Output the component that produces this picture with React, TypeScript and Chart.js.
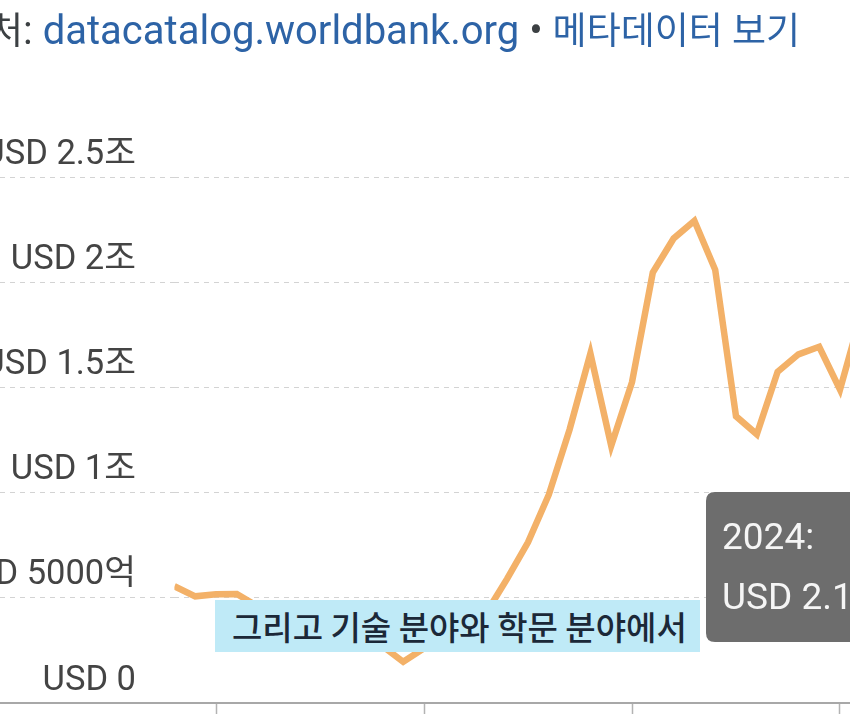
import React, { useEffect, useRef } from "react";
import { Chart, registerables } from "chart.js";

Chart.register(...registerables);

const years = [
  1988, 1989, 1990, 1991, 1992, 1993, 1994, 1995, 1996, 1997, 1998, 1999,
  2000, 2001, 2002, 2003, 2004, 2005, 2006, 2007, 2008, 2009, 2010, 2011,
  2012, 2013, 2014, 2015, 2016, 2017, 2018, 2019, 2020, 2021, 2022, 2023, 2024,
];

// GDP in USD trillions (조)
const gdpTrillions = [
  0.555, 0.507, 0.517, 0.518, 0.46, 0.435, 0.395, 0.396, 0.392, 0.405, 0.271, 0.196,
  0.26, 0.307, 0.345, 0.43, 0.591, 0.764, 0.99, 1.3, 1.661, 1.223, 1.525, 2.046,
  2.208, 2.292, 2.059, 1.363, 1.277, 1.574, 1.657, 1.693, 1.489, 1.843, 2.266, 2.021, 2.174,
];

const yTickValues = [0, 0.5, 1, 1.5, 2, 2.5];
const yTickLabels = ["USD 0", "USD 5000억", "USD 1조", "USD 1.5조", "USD 2조", "USD 2.5조"];
const xTickValues = [1990, 2000, 2010, 2020];

const FONT = "Roboto, 'Noto Sans CJK KR', sans-serif";

const tooltipPlugin = {
  id: "fixedTooltip",
  afterDraw(chart: any) {
    const ctx = chart.ctx;
    const lastIdx = years.length - 1;
    const title = `${years[lastIdx]}:`;
    const body = `USD ${gdpTrillions[lastIdx].toFixed(2)}조`;
    const x = 706;
    const y = 492;
    const w = 210;
    const h = 150;
    const r = 9;
    ctx.save();
    ctx.fillStyle = "#6d6d6d";
    ctx.beginPath();
    ctx.moveTo(x + r, y);
    ctx.lineTo(x + w - r, y);
    ctx.quadraticCurveTo(x + w, y, x + w, y + r);
    ctx.lineTo(x + w, y + h - r);
    ctx.quadraticCurveTo(x + w, y + h, x + w - r, y + h);
    ctx.lineTo(x + r, y + h);
    ctx.quadraticCurveTo(x, y + h, x, y + h - r);
    ctx.lineTo(x, y + r);
    ctx.quadraticCurveTo(x, y, x + r, y);
    ctx.closePath();
    ctx.fill();
    ctx.fillStyle = "#f5f5f5";
    ctx.font = `37px ${FONT}`;
    ctx.textBaseline = "alphabetic";
    ctx.textAlign = "left";
    ctx.fillText(title, x + 16, y + 57);
    ctx.fillText(body, x + 16, y + 117);
    ctx.restore();
  },
};

export default function App() {
  const canvasRef = useRef<HTMLCanvasElement | null>(null);

  useEffect(() => {
    if (!canvasRef.current) return;
    const chart = new Chart(canvasRef.current, {
      type: "line",
      data: {
        datasets: [
          {
            data: years.map((yr, i) => ({ x: yr, y: gdpTrillions[i] })),
            borderColor: "#f3b168",
            borderWidth: 6.5,
            pointRadius: 0,
            tension: 0,
            fill: false,
          },
        ],
      },
      options: {
        responsive: false,
        animation: false,
        layout: { padding: { top: 177, right: 16.8, left: 0, bottom: 0 } },
        plugins: {
          legend: { display: false },
          tooltip: { enabled: false },
        },
        scales: {
          x: {
            type: "linear",
            min: years[0],
            max: years[years.length - 1],
            afterBuildTicks: (scale: any) => {
              scale.ticks = xTickValues.map((v) => ({ value: v }));
            },
            afterFit: (scale: any) => {
              scale.height = 57;
            },
            ticks: {
              callback: (v: any) => String(v),
              font: { family: FONT, size: 34 },
              color: "#444",
              autoSkip: false,
              maxRotation: 0,
            },
            grid: {
              drawOnChartArea: false,
              drawTicks: true,
              tickLength: 12,
              tickColor: "#b3b3b3",
              tickWidth: 1.5,
            },
            border: { display: true, color: "#a8a8a8", width: 2 },
          },
          y: {
            min: 0,
            max: 2.5,
            afterBuildTicks: (scale: any) => {
              scale.ticks = yTickValues.map((v) => ({ value: v }));
            },
            afterFit: (scale: any) => {
              scale.width = 174.4;
            },
            ticks: {
              callback: (_v: any, i: number) => yTickLabels[i],
              font: { family: FONT, size: 34.5 },
              color: "#444",
              padding: -136,
              labelOffset: -22,
            },
            grid: {
              drawTicks: true,
              tickLength: 174.4,
              color: (c: any) => (c.tick && c.tick.value === 0 ? "#a8a8a8" : "#d3d3d3"),
              lineWidth: (c: any) => (c.tick && c.tick.value === 0 ? 2 : 1),
              tickColor: (c: any) => (c.tick && c.tick.value === 0 ? "#a8a8a8" : "#d3d3d3"),
              tickWidth: (c: any) => (c.tick && c.tick.value === 0 ? 2 : 1),
              tickBorderDash: (c: any) => (c.tick && c.tick.value === 0 ? [] : [5, 5]),
            },
            border: {
              display: false,
              dash: (c: any) => (c.tick && c.tick.value === 0 ? [] : [5, 5]),
            },
          },
        },
      },
      plugins: [tooltipPlugin],
    } as any);
    return () => chart.destroy();
  }, []);

  return (
    <div
      style={{
        position: "absolute",
        left: 0,
        top: 0,
        width: 850,
        height: 714,
        overflow: "hidden",
        background: "#fff",
      }}
    >
      <canvas
        ref={canvasRef}
        width={940}
        height={760}
        style={{ position: "absolute", left: 0, top: 0, width: 940, height: 760 }}
      />
      <div
        style={{
          position: "absolute",
          left: -45,
          top: 1,
          whiteSpace: "nowrap",
          fontFamily: FONT,
          fontSize: 40,
          lineHeight: "60px",
        }}
      >
        <span style={{ color: "#3c4043", fontSize: 37 }}>출처</span>
        <span style={{ color: "#3c4043" }}>: </span>
        <span style={{ color: "#2d63a6" }}>datacatalog.worldbank.org</span>
        <span style={{ color: "#3c4043" }}> • </span>
        <span style={{ color: "#2d63a6", fontSize: 37 }}>메타데이터 보기</span>
      </div>
      <div
        style={{
          position: "absolute",
          left: 215,
          top: 600,
          width: 485,
          height: 52,
          background: "#bfeaf7",
          color: "#1b2838",
          fontFamily: "'Noto Sans CJK KR', sans-serif",
          fontSize: 33,
          fontWeight: 500,
          lineHeight: "52px",
          paddingLeft: 17,
          boxSizing: "border-box",
          whiteSpace: "nowrap",
        }}
      >
        그리고 기술 분야와 학문 분야에서
      </div>
    </div>
  );
}
